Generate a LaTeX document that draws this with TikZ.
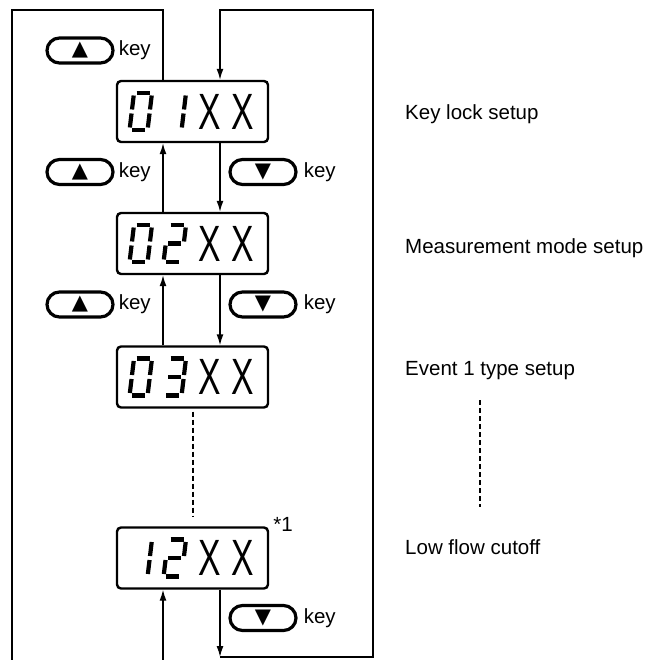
\documentclass[tikz,border=0pt]{standalone}
\usepackage{fontspec}
\setmainfont{Liberation Sans}
\newfontfamily\symfont{DejaVu Sans}
\usetikzlibrary{positioning,shapes.misc,arrows.meta}

% segments of the seven-segment digits (x1/y1/x2/y2, y downwards)
\def\digzero{2.5/0/15.5/0, 18/2.5/18/16.5, 18/20.5/18/34.5, 2.5/37/15.5/37, 0/20.5/0/34.5, 0/2.5/0/16.5}
\def\digone{18/2.5/18/16.5, 18/20.5/18/34.5}
\def\digtwo{2.5/0/15.5/0, 18/2.5/18/16.5, 2.5/18.5/15.5/18.5, 0/20.5/0/34.5, 2.5/37/15.5/37}
\def\digthree{2.5/0/15.5/0, 18/2.5/18/16.5, 2.5/18.5/15.5/18.5, 18/20.5/18/34.5, 2.5/37/15.5/37}

\newcommand{\segdigit}[3]{%
  \begin{scope}[shift={([xshift=#2pt,yshift=18.5pt]#1.center)}, xslant=0.12]
    \foreach \xa/\ya/\xb/\yb in #3 {\draw[segline] (\xa,\ya) -- (\xb,\yb);}
  \end{scope}}

\begin{document}
\begin{tikzpicture}[
    x=1pt, y=-1pt,
    display/.style={rectangle, draw, rounded corners=4pt, line width=2.4pt, minimum width=151pt, minimum height=61pt, inner sep=0pt},
    xchar/.style={inner sep=0pt, xscale=0.66, font=\fontsize{51}{51}\selectfont},
    segline/.style={line width=4.2pt},
    keypill/.style={rounded rectangle, draw, line width=3.2pt, minimum width=66pt, minimum height=25pt, inner sep=0pt, font=\symfont\fontsize{21}{21}\selectfont},
    keylabel/.style={inner sep=0pt, font=\fontsize{20.5}{24}\selectfont},
    note/.style={anchor=base west, inner sep=0pt, font=\fontsize{20.5}{24}\selectfont},
    wire/.style={line width=1.4pt},
    flow/.style={line width=1.4pt, -{Latex[length=11pt,width=7pt]}},
    dots/.style={line width=1.8pt, dash pattern=on 5pt off 3pt}
]
\useasboundingbox (0,0) rectangle (654,660);

% Displays
\node[display] (d01) at (192.5,111.5) {};
\node[display] (d02) at (192.5,243.5) {};
\node[display] (d03) at (192.5,377) {};
\node[display] (d12) at (192.5,558) {};

\foreach \d in {d01,d02,d03,d12}{
  \node[xchar] (\d x1) at ([xshift=17.5pt]\d.center) {X};
  \node[xchar] (\d x2) at ([xshift=50.5pt]\d.center) {X};
}

\segdigit{d01}{-58.5}{\digzero}
\segdigit{d01}{-24.5}{\digone}
\segdigit{d02}{-58.5}{\digzero}
\segdigit{d02}{-24.5}{\digtwo}
\segdigit{d03}{-58.5}{\digzero}
\segdigit{d03}{-24.5}{\digthree}
\segdigit{d12}{-58.5}{\digone}
\segdigit{d12}{-24.5}{\digtwo}

\node[note] (fn1) at ([xshift=4pt,yshift=-5pt]d12.north east) {*1};

% Keys
\node[keypill] (up1) at (80,50.5) {▲};
\node[keylabel, right=4pt of up1] (up1k) {key};
\node[keypill] (up2) at (80,172) {▲};
\node[keylabel, right=4pt of up2] (up2k) {key};
\node[keypill] (up3) at (80,304.5) {▲};
\node[keylabel, right=4pt of up3] (up3k) {key};
\node[keypill] (dn1) at (263,172) {▼};
\node[keylabel, right=6pt of dn1] (dn1k) {key};
\node[keypill] (dn2) at (263,304.5) {▼};
\node[keylabel, right=6pt of dn2] (dn2k) {key};
\node[keypill] (dn3) at (263,618) {▼};
\node[keylabel, right=6pt of dn3] (dn3k) {key};

% Setup names
\node[note] (n01) at (405,119.5) {Key lock setup};
\node[note] (n02) at (405,253) {Measurement mode setup};
\node[note] (n03) at (405,375.5) {Event 1 type setup};
\node[note] (n12) at (405,554.5) {Low flow cutoff};

% Loop corners
\coordinate (topl) at (12,10);
\coordinate (botl) at (12,660);
\coordinate (botu) at (163,660);
\coordinate (topr) at (373,10);
\coordinate (botr) at (373,657);
\coordinate (botm) at (220,657);
\coordinate (vd1) at (480,400);
\coordinate (vd2) at (480,507);

% Arrows
\draw[flow] ([xshift=-29.5pt]d02.north) -- ([xshift=-29.5pt]d01.south);
\draw[flow] ([xshift=-29.5pt]d03.north) -- ([xshift=-29.5pt]d02.south);
\draw[flow] ([xshift=27.5pt]d01.south) -- ([xshift=27.5pt]d02.north);
\draw[flow] ([xshift=27.5pt]d02.south) -- ([xshift=27.5pt]d03.north);
\draw[wire] ([xshift=-29.5pt]d01.north) |- (topl) -- (botl);
\draw[flow] (botu) -- ([xshift=-29.5pt]d12.south);
\draw[flow] ([xshift=27.5pt]d12.south) -- (botm);
\draw[flow] (botm) -- (botr) -- (topr) -| ([xshift=27.5pt]d01.north);
\draw[dots] ([xshift=0.5pt,yshift=-3pt]d03.south) -- ([xshift=0.5pt,yshift=10pt]d12.north);
\draw[dots] (vd1) -- (vd2);

\end{tikzpicture}
\end{document}
